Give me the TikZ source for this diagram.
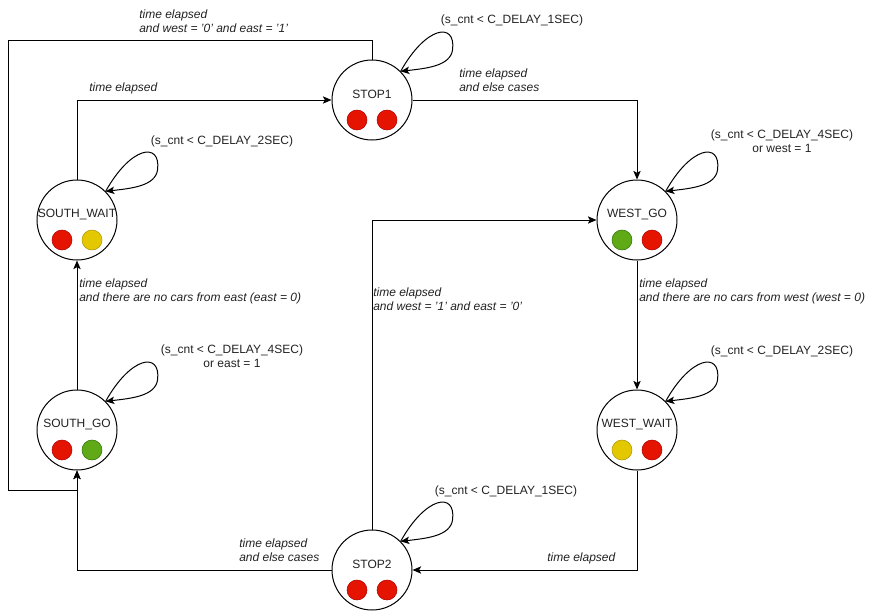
\documentclass[tikz,border=0pt]{standalone}
\usepackage{fontspec}
\setmainfont{Liberation Sans}
\usetikzlibrary{arrows.meta}
\definecolor{lred}{HTML}{E51400}\definecolor{lredd}{HTML}{B20000}
\definecolor{lyel}{HTML}{E3C800}\definecolor{lyeld}{HTML}{B09500}
\definecolor{lgrn}{HTML}{60A917}\definecolor{lgrnd}{HTML}{2D7600}
\definecolor{txt}{HTML}{222222}
\tikzset{
  state/.style={circle,draw=black,line width=0.75pt,minimum size=60pt,inner sep=0pt,fill=white},
  stname/.style={font=\fontsize{9}{10.5}\selectfont,text=txt,yshift=4.5pt},
  red/.style={circle,draw=lredd,fill=lred,minimum size=15pt,inner sep=0pt,line width=0.4pt},
  yel/.style={circle,draw=lyeld,fill=lyel,minimum size=15pt,inner sep=0pt,line width=0.4pt},
  grn/.style={circle,draw=lgrnd,fill=lgrn,minimum size=15pt,inner sep=0pt,line width=0.4pt},
  arr/.style={draw=black,line width=0.75pt,-{Stealth[length=6.5pt,width=5.5pt,inset=1.5pt]}},
  elab/.style={font=\fontsize{9}{10.5}\selectfont\itshape,text=txt,align=left,anchor=west,inner sep=0pt},
  llab/.style={font=\fontsize{9}{10.5}\selectfont,text=txt,align=center,inner sep=0pt},
}
\begin{document}
\begin{tikzpicture}[x=0.75pt,y=-0.75pt]
\useasboundingbox (0,0) rectangle (878,611);
% states
\node[state,label={[stname]center:STOP1}] (stop1) at (372,100) {};
\node[state,label={[stname]center:SOUTH\_WAIT}] (southwait) at (77,220) {};
\node[state,label={[stname]center:SOUTH\_GO}] (southgo) at (77,430) {};
\node[state,label={[stname]center:WEST\_GO}] (westgo) at (637,220) {};
\node[state,label={[stname]center:WEST\_WAIT}] (westwait) at (637,430) {};
\node[state,label={[stname]center:STOP2}] (stop2) at (372,570) {};
% lights
\node[red] (stop1a) at (357,120) {}; \node[red] (stop1b) at (387,120) {};
\node[red] (swa) at (62,240) {}; \node[yel] (swb) at (92,240) {};
\node[red] (sga) at (62,450) {}; \node[grn] (sgb) at (92,450) {};
\node[grn] (wga) at (622,240) {}; \node[red] (wgb) at (652,240) {};
\node[yel] (wwa) at (622,450) {}; \node[red] (wwb) at (652,450) {};
\node[red] (stop2a) at (357,590) {}; \node[red] (stop2b) at (387,590) {};
% transitions
\coordinate (c1) at (8,40);
\coordinate (c2) at (8,490);
\draw[arr] (stop1.east) -| (westgo.north);
\draw[arr] (westgo.south) -- (westwait.north);
\draw[arr] (westwait.south) |- (stop2.east);
\draw[arr] (stop2.west) -| (southgo.south);
\draw[arr] (southgo.north) -- (southwait.south);
\draw[arr] (southwait.north) |- (stop1.west);
\draw[arr] (stop1.north) |- (c1) -- (c2) -| (southgo.south);
\draw[arr] (stop2.north) |- (westgo.west);
% self loops
\foreach \n in {stop1,southwait,southgo,westgo,westwait,stop2}{
  \draw[arr,shift={(\n.45)}] (0,0) .. controls (25,-45) and (55,-50) .. (52,-22) .. controls (50,-5) and (25,-3) .. (0,0);
}
% edge labels
\node[elab] (l7) at (139,21) {time elapsed\\and west = '0' and east = '1'};
\node[elab] (l6) at (89,88) {time elapsed};
\node[elab] (l1) at (459,80) {time elapsed\\and else cases};
\node[elab] (l5) at (79,291) {time elapsed\\and there are no cars from east (east = 0)};
\node[elab] (l2) at (639,291) {time elapsed\\and there are no cars from west (west = 0)};
\node[elab] (l8) at (373,299) {time elapsed\\and west = '1' and east = '0'};
\node[elab] (l4) at (239,550) {time elapsed\\and else cases};
\node[elab] (l3) at (547,558) {time elapsed};
% loop labels
\node[llab] (ll1) at (512,20) {(s\_cnt < C\_DELAY\_1SEC)};
\node[llab] (ll2) at (222,141) {(s\_cnt < C\_DELAY\_2SEC)};
\node[llab] (ll3) at (782,141) {(s\_cnt < C\_DELAY\_4SEC)\\or west = 1};
\node[llab] (ll4) at (232,356) {(s\_cnt < C\_DELAY\_4SEC)\\or east = 1};
\node[llab] (ll5) at (782,351) {(s\_cnt < C\_DELAY\_2SEC)};
\node[llab] (ll6) at (506,491) {(s\_cnt < C\_DELAY\_1SEC)};
\end{tikzpicture}
\end{document}
